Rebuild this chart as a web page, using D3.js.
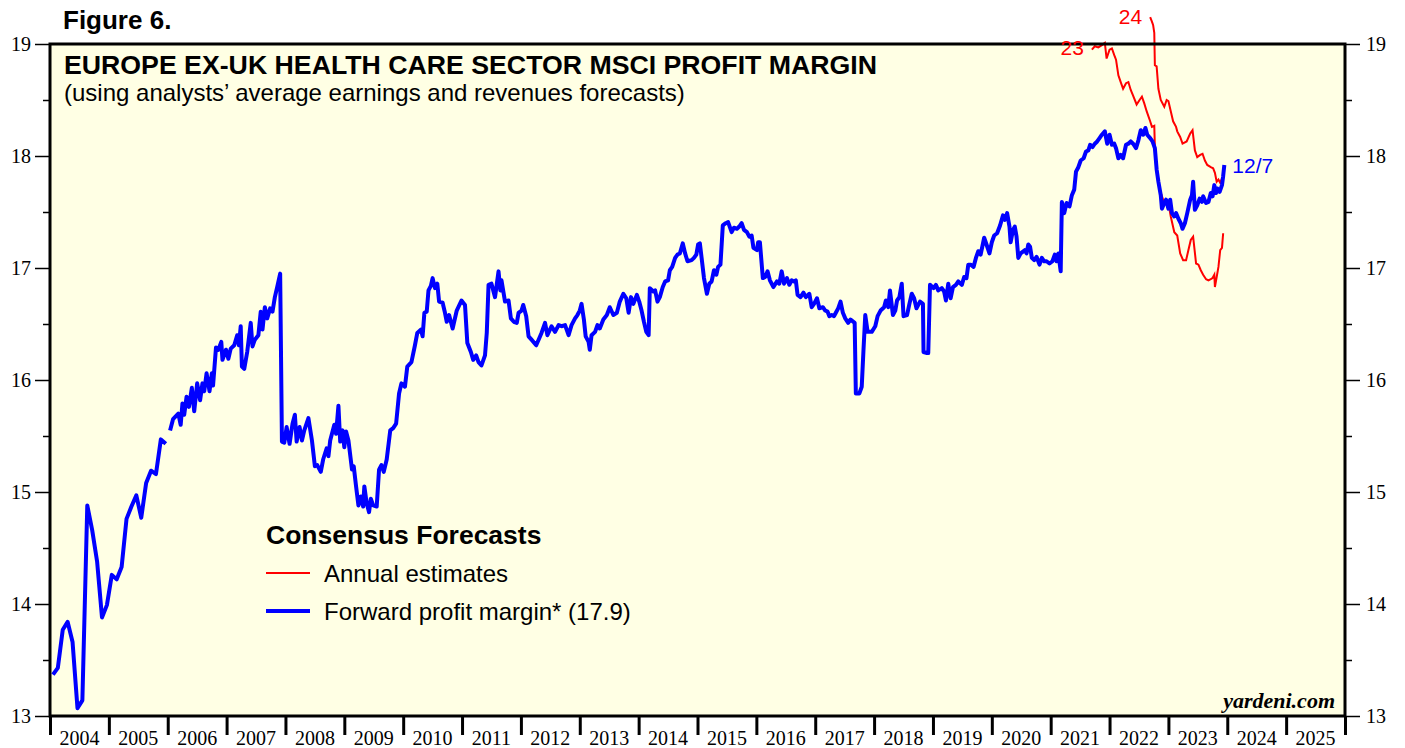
<!DOCTYPE html>
<html>
<head>
<meta charset="utf-8">
<script src="https://cdn.jsdelivr.net/npm/d3@7"></script>
<style>
  body { margin: 0; background: #fff; }
  #chart svg { display: block; }
</style>
</head>
<body>
<div id="chart"></div>
<script>
// monthly forward margin, 2004-2005
const monthlyDates = ["2004-01","2004-02","2004-03","2004-04","2004-05","2004-06","2004-07","2004-08","2004-09","2004-10","2004-11","2004-12",
                      "2005-01","2005-02","2005-03","2005-04","2005-05","2005-06","2005-07","2005-08","2005-09","2005-10","2005-11","2005-12"];
const monthlyValues = [13.37,13.43,13.77,13.84,13.66,13.07,13.14,14.88,14.66,14.38,13.88,13.99,
                       14.26,14.22,14.33,14.76,14.87,14.97,14.77,15.08,15.19,15.16,15.47,15.43];

// weekly forward margin [decimal year, value], 2006 onward
const weeklyFwd = [[2006.04,15.55],[2006.09,15.65],[2006.18,15.70],[2006.22,15.60],[2006.25,15.79],[2006.28,15.69],[2006.32,15.85],[2006.36,15.76],[2006.41,15.93],[2006.45,15.72],[2006.50,15.97],[2006.55,15.82],[2006.59,15.97],[2006.62,15.90],[2006.66,16.06],[2006.71,15.90],[2006.75,16.06],[2006.77,15.95],[2006.82,16.29],[2006.86,16.27],[2006.91,16.34],[2006.93,16.18],[2006.99,16.27],
  [2007.03,16.19],[2007.07,16.28],[2007.13,16.31],[2007.18,16.40],[2007.21,16.31],[2007.24,16.48],[2007.26,16.12],[2007.30,16.10],[2007.35,16.25],[2007.41,16.51],[2007.44,16.30],[2007.48,16.36],[2007.54,16.40],[2007.58,16.61],[2007.61,16.45],[2007.65,16.65],[2007.69,16.55],[2007.74,16.64],[2007.78,16.61],[2007.82,16.74],[2007.86,16.83],[2007.91,16.95],[2007.94,15.45],[2007.98,15.44],
  [2008.02,15.58],[2008.07,15.43],[2008.12,15.61],[2008.16,15.69],[2008.19,15.45],[2008.24,15.58],[2008.28,15.46],[2008.32,15.55],[2008.39,15.66],[2008.45,15.46],[2008.50,15.23],[2008.54,15.24],[2008.60,15.18],[2008.64,15.29],[2008.70,15.39],[2008.73,15.32],[2008.76,15.46],[2008.83,15.60],[2008.86,15.52],[2008.90,15.77],[2008.93,15.45],[2008.97,15.55],
  [2009.00,15.40],[2009.03,15.54],[2009.07,15.46],[2009.13,15.20],[2009.16,15.23],[2009.20,15.05],[2009.24,14.88],[2009.28,14.96],[2009.32,14.87],[2009.34,15.05],[2009.38,14.90],[2009.42,14.82],[2009.45,14.94],[2009.49,14.88],[2009.55,14.87],[2009.59,15.20],[2009.63,15.24],[2009.67,15.18],[2009.72,15.29],[2009.78,15.55],[2009.83,15.57],[2009.88,15.61],[2009.93,15.88],[2009.97,15.97],
  [2010.03,15.94],[2010.07,16.12],[2010.14,16.16],[2010.20,16.31],[2010.24,16.42],[2010.30,16.45],[2010.33,16.39],[2010.36,16.60],[2010.40,16.61],[2010.43,16.80],[2010.47,16.84],[2010.50,16.91],[2010.54,16.82],[2010.58,16.86],[2010.61,16.70],[2010.67,16.69],[2010.71,16.60],[2010.74,16.52],[2010.78,16.58],[2010.84,16.46],[2010.91,16.62],[2010.99,16.71],
  [2011.05,16.67],[2011.09,16.33],[2011.15,16.25],[2011.19,16.18],[2011.24,16.22],[2011.28,16.16],[2011.33,16.13],[2011.39,16.22],[2011.42,16.42],[2011.45,16.85],[2011.50,16.86],[2011.56,16.74],[2011.62,16.97],[2011.65,16.80],[2011.67,16.89],[2011.73,16.70],[2011.79,16.71],[2011.83,16.55],[2011.88,16.52],[2011.93,16.51],[2011.96,16.60],
  [2012.01,16.62],[2012.04,16.67],[2012.09,16.57],[2012.13,16.39],[2012.18,16.36],[2012.26,16.31],[2012.31,16.37],[2012.35,16.42],[2012.41,16.51],[2012.45,16.40],[2012.52,16.48],[2012.58,16.43],[2012.64,16.49],[2012.69,16.48],[2012.75,16.49],[2012.81,16.40],[2012.86,16.49],[2012.92,16.55],[2012.96,16.58],
  [2013.00,16.62],[2013.03,16.68],[2013.07,16.54],[2013.10,16.39],[2013.15,16.34],[2013.17,16.27],[2013.20,16.40],[2013.26,16.43],[2013.30,16.49],[2013.34,16.46],[2013.40,16.54],[2013.46,16.58],[2013.51,16.65],[2013.57,16.58],[2013.63,16.60],[2013.68,16.70],[2013.74,16.77],[2013.79,16.73],[2013.83,16.60],[2013.87,16.74],[2013.91,16.68],[2013.97,16.76],
  [2014.01,16.70],[2014.05,16.62],[2014.09,16.52],[2014.13,16.43],[2014.17,16.40],[2014.19,16.82],[2014.25,16.79],[2014.28,16.80],[2014.32,16.70],[2014.36,16.74],[2014.41,16.83],[2014.45,16.88],[2014.50,16.89],[2014.53,16.98],[2014.57,17.01],[2014.62,17.09],[2014.66,17.12],[2014.70,17.13],[2014.75,17.22],[2014.79,17.13],[2014.83,17.06],[2014.90,17.07],[2014.94,17.09],[2014.98,17.12],
  [2015.01,17.21],[2015.04,17.22],[2015.07,17.09],[2015.11,16.91],[2015.16,16.77],[2015.20,16.86],[2015.24,16.88],[2015.28,16.98],[2015.32,16.94],[2015.35,17.01],[2015.39,17.03],[2015.43,17.38],[2015.48,17.40],[2015.52,17.41],[2015.58,17.32],[2015.62,17.36],[2015.67,17.35],[2015.71,17.37],[2015.75,17.40],[2015.79,17.34],[2015.84,17.32],[2015.88,17.28],[2015.92,17.29],[2015.95,17.18],
  [2016.01,17.16],[2016.03,17.23],[2016.06,17.23],[2016.11,16.91],[2016.15,16.92],[2016.19,16.97],[2016.23,16.89],[2016.29,16.83],[2016.35,16.88],[2016.39,16.86],[2016.43,16.97],[2016.47,16.86],[2016.52,16.91],[2016.56,16.85],[2016.60,16.89],[2016.64,16.88],[2016.67,16.89],[2016.70,16.76],[2016.75,16.74],[2016.80,16.78],[2016.84,16.74],[2016.90,16.77],[2016.94,16.65],[2016.98,16.68],
  [2017.03,16.73],[2017.07,16.64],[2017.13,16.65],[2017.17,16.62],[2017.21,16.61],[2017.24,16.57],[2017.28,16.58],[2017.32,16.57],[2017.35,16.60],[2017.39,16.64],[2017.43,16.70],[2017.47,16.60],[2017.51,16.55],[2017.56,16.51],[2017.60,16.54],[2017.67,16.51],[2017.69,15.88],[2017.75,15.88],[2017.79,15.94],[2017.82,16.27],[2017.85,16.58],[2017.89,16.43],[2017.96,16.43],
  [2018.02,16.48],[2018.06,16.57],[2018.11,16.62],[2018.17,16.65],[2018.20,16.71],[2018.24,16.65],[2018.27,16.80],[2018.32,16.58],[2018.36,16.62],[2018.39,16.71],[2018.43,16.74],[2018.47,16.86],[2018.50,16.57],[2018.56,16.58],[2018.60,16.68],[2018.64,16.77],[2018.68,16.73],[2018.72,16.64],[2018.78,16.70],[2018.83,16.68],[2018.84,16.25],[2018.90,16.24],[2018.92,16.24],[2018.95,16.85],
  [2019.01,16.82],[2019.05,16.85],[2019.09,16.80],[2019.15,16.82],[2019.19,16.79],[2019.22,16.71],[2019.26,16.86],[2019.30,16.73],[2019.34,16.83],[2019.39,16.85],[2019.43,16.88],[2019.49,16.85],[2019.53,16.92],[2019.57,16.91],[2019.60,17.03],[2019.64,17.03],[2019.69,17.01],[2019.73,17.09],[2019.77,17.15],[2019.81,17.12],[2019.87,17.27],[2019.91,17.21],[2019.96,17.13],
  [2020.00,17.23],[2020.04,17.29],[2020.09,17.31],[2020.14,17.38],[2020.19,17.47],[2020.22,17.43],[2020.26,17.49],[2020.30,17.37],[2020.32,17.23],[2020.36,17.34],[2020.39,17.37],[2020.42,17.28],[2020.45,17.09],[2020.49,17.13],[2020.54,17.15],[2020.56,17.16],[2020.59,17.13],[2020.62,17.21],[2020.65,17.19],[2020.68,17.09],[2020.72,17.07],[2020.76,17.10],[2020.81,17.03],[2020.85,17.09],[2020.89,17.06],[2020.93,17.06],[2020.98,17.04],
  [2021.03,17.06],[2021.07,17.12],[2021.10,17.06],[2021.13,17.13],[2021.17,16.97],[2021.19,17.59],[2021.23,17.49],[2021.27,17.58],[2021.32,17.55],[2021.36,17.65],[2021.40,17.70],[2021.43,17.86],[2021.47,17.90],[2021.51,17.96],[2021.56,17.98],[2021.60,18.04],[2021.64,18.05],[2021.67,18.10],[2021.71,18.08],[2021.75,18.11],[2021.79,18.13],[2021.83,18.16],[2021.87,18.19],[2021.92,18.22],[2021.96,18.11],
  [2022.00,18.19],[2022.04,18.10],[2022.08,18.11],[2022.11,18.07],[2022.15,17.98],[2022.19,18.01],[2022.23,17.98],[2022.28,18.10],[2022.32,18.11],[2022.36,18.13],[2022.40,18.11],[2022.45,18.07],[2022.49,18.14],[2022.53,18.23],[2022.57,18.19],[2022.61,18.25],[2022.64,18.19],[2022.69,18.16],[2022.73,18.13],[2022.77,18.07],[2022.80,17.88],[2022.83,17.77],[2022.87,17.65],[2022.89,17.53],[2022.93,17.58],[2022.96,17.61],
  [2023.00,17.53],[2023.03,17.61],[2023.06,17.49],[2023.10,17.46],[2023.13,17.49],[2023.17,17.44],[2023.21,17.40],[2023.24,17.35],[2023.28,17.40],[2023.32,17.49],[2023.37,17.61],[2023.40,17.65],[2023.42,17.77],[2023.45,17.52],[2023.49,17.56],[2023.53,17.62],[2023.57,17.59],[2023.59,17.64],[2023.64,17.58],[2023.68,17.59],[2023.72,17.67],[2023.75,17.64],[2023.78,17.74],[2023.81,17.67],[2023.83,17.71],[2023.87,17.68],[2023.91,17.74],[2023.93,17.82],[2023.95,17.92]];

// annual estimates (red)
const est2023 = [[2021.70,18.95],[2021.75,18.98],[2021.81,18.97],[2021.87,18.99],[2021.92,19.01],[2021.95,18.87],[2022.00,18.95],[2022.04,18.96],[2022.08,18.90],[2022.11,18.86],[2022.15,18.72],[2022.19,18.66],[2022.23,18.60],[2022.28,18.65],[2022.32,18.66],[2022.36,18.59],[2022.40,18.54],[2022.46,18.46],[2022.51,18.50],[2022.55,18.53],[2022.59,18.47],[2022.63,18.40],[2022.69,18.31],[2022.72,18.26],[2022.76,18.27],[2022.77,18.08],[2022.78,17.99],[2022.80,17.88],[2022.85,17.70],[2022.91,17.61],[2023.00,17.58],[2023.04,17.46],[2023.10,17.32],[2023.15,17.29],[2023.20,17.13],[2023.25,17.07],[2023.30,17.07],[2023.34,17.16],[2023.38,17.25],[2023.42,17.28],[2023.47,17.04],[2023.51,17.03],[2023.55,16.98],[2023.59,16.94],[2023.64,16.90],[2023.68,16.89],[2023.72,16.90],[2023.75,16.91],[2023.78,16.94],[2023.79,16.83],[2023.82,16.92],[2023.85,17.01],[2023.88,17.16],[2023.91,17.18],[2023.93,17.31]];
const est2024 = [[2022.69,19.24],[2022.72,19.20],[2022.74,19.17],[2022.76,19.10],[2022.77,18.81],[2022.80,18.80],[2022.83,18.60],[2022.87,18.50],[2022.93,18.44],[2022.97,18.50],[2023.00,18.49],[2023.04,18.40],[2023.08,18.31],[2023.13,18.26],[2023.15,18.22],[2023.20,18.17],[2023.24,18.11],[2023.31,18.13],[2023.37,18.20],[2023.41,18.23],[2023.45,18.05],[2023.49,17.99],[2023.54,18.01],[2023.58,18.02],[2023.62,17.96],[2023.66,17.92],[2023.72,17.90],[2023.76,17.89],[2023.79,17.85],[2023.82,17.77],[2023.85,17.79],[2023.88,17.76],[2023.91,17.80]];

const years = d3.range(2004, 2026);
const yTicks = [13, 14, 15, 16, 17, 18, 19];
const yMinor = [13.5, 14.5, 15.5, 16.5, 17.5, 18.5];

const W = 1405, H = 748;
const frame = {left: 50, right: 1345, top: 44, bottom: 716};

const svg = d3.select("#chart").append("svg")
  .attr("width", W).attr("height", H);

const x = d3.scaleLinear().domain([2004, 2026]).range([frame.left, frame.right]);
const y = d3.scaleLinear().domain([13, 19]).range([frame.bottom, frame.top]);

const sans = "'Liberation Sans', Arial, sans-serif";
const serif = "'Liberation Serif', 'Times New Roman', serif";

// plot background
svg.append("rect")
  .attr("x", frame.left).attr("y", frame.top)
  .attr("width", frame.right - frame.left).attr("height", frame.bottom - frame.top)
  .attr("fill", "#ffffe4");

// y axes both sides
const axL = svg.append("g").attr("transform", `translate(${frame.left},0)`);
axL.call(d3.axisLeft(y).tickValues(yTicks).tickSize(15).tickFormat(d3.format("d")));
axL.append("g").call(d3.axisLeft(y).tickValues(yMinor).tickSize(7).tickFormat(""));
const axR = svg.append("g").attr("transform", `translate(${frame.right},0)`);
axR.call(d3.axisRight(y).tickValues(yTicks).tickSize(15).tickFormat(d3.format("d")));
axR.append("g").call(d3.axisRight(y).tickValues(yMinor).tickSize(7).tickFormat(""));
[axL, axR].forEach(g => {
  g.selectAll(".domain").remove();
  g.selectAll("line").attr("stroke", "#000").attr("stroke-width", 1.5);
  g.selectAll("text").attr("font-family", serif).attr("font-size", 20).attr("fill", "#000");
});
axL.selectAll("text").attr("x", -19);
axR.selectAll("text").attr("x", 21);

// x axis: year boundaries as ticks, labels centred in each year
const axB = svg.append("g").attr("transform", `translate(0,${frame.bottom})`);
axB.call(d3.axisBottom(x).tickValues(years.concat([2026])).tickSize(19).tickFormat(""));
axB.select(".domain").remove();
axB.selectAll("line").attr("stroke", "#000").attr("stroke-width", 3);
axB.selectAll(".yr").data(years).enter().append("text")
  .attr("class", "yr")
  .attr("x", d => x(d + 0.5))
  .attr("y", 29)
  .attr("text-anchor", "middle")
  .attr("fill", "#000")
  .attr("font-family", serif).attr("font-size", 20)
  .text(d => d);

// series
const parseMonth = d3.timeParse("%Y-%m");
const monthly = monthlyDates.map((s, i) => {
  const t = parseMonth(s);
  return [t.getFullYear() + (t.getMonth() + 0.6) / 12, monthlyValues[i]];
});

const line = d3.line().x(d => x(d[0])).y(d => y(d[1]));

const plot = svg.append("g");
plot.append("path").datum(est2023).attr("d", line)
  .attr("fill", "none").attr("stroke", "#ff0000").attr("stroke-width", 2);
plot.append("path").datum(est2024).attr("d", line)
  .attr("fill", "none").attr("stroke", "#ff0000").attr("stroke-width", 2);
[monthly, weeklyFwd].forEach(s => {
  plot.append("path").datum(s).attr("d", line)
    .attr("fill", "none").attr("stroke", "#0000ff").attr("stroke-width", 4)
    .attr("stroke-linejoin", "round");
});

// frame
svg.append("rect")
  .attr("x", frame.left).attr("y", frame.top)
  .attr("width", frame.right - frame.left).attr("height", frame.bottom - frame.top)
  .attr("fill", "none").attr("stroke", "#000").attr("stroke-width", 3);

// line labels
svg.append("text").attr("x", x(est2023[0][0]) - 8).attr("y", 55)
  .attr("text-anchor", "end").attr("font-family", sans).attr("font-size", 21)
  .attr("fill", "#ff0000").text("23");
svg.append("text").attr("x", x(est2024[0][0]) - 8).attr("y", 24)
  .attr("text-anchor", "end").attr("font-family", sans).attr("font-size", 21)
  .attr("fill", "#ff0000").text("24");
const last = weeklyFwd[weeklyFwd.length - 1];
svg.append("text").attr("x", x(last[0]) + 8).attr("y", 173)
  .attr("font-family", sans).attr("font-size", 21)
  .attr("fill", "#0000ff").text("12/7");

// titles
svg.append("text").attr("x", 63).attr("y", 29)
  .attr("font-family", sans).attr("font-weight", "bold").attr("font-size", 26)
  .text("Figure 6.");
svg.append("text").attr("x", 64).attr("y", 74)
  .attr("font-family", sans).attr("font-weight", "bold").attr("font-size", 26.7)
  .text("EUROPE EX-UK HEALTH CARE SECTOR MSCI PROFIT MARGIN");
svg.append("text").attr("x", 64).attr("y", 101)
  .attr("font-family", sans).attr("font-size", 24)
  .text("(using analysts\u2019 average earnings and revenues forecasts)");

// legend
const lg = svg.append("g").attr("transform", "translate(266,0)");
lg.append("text").attr("x", 0).attr("y", 544)
  .attr("font-family", sans).attr("font-weight", "bold").attr("font-size", 26.5)
  .text("Consensus Forecasts");
lg.append("line").attr("x1", 0).attr("x2", 44).attr("y1", 573).attr("y2", 573)
  .attr("stroke", "#ff0000").attr("stroke-width", 2);
lg.append("text").attr("x", 58).attr("y", 582)
  .attr("font-family", sans).attr("font-size", 24).text("Annual estimates");
lg.append("line").attr("x1", 0).attr("x2", 44).attr("y1", 611).attr("y2", 611)
  .attr("stroke", "#0000ff").attr("stroke-width", 4);
lg.append("text").attr("x", 58).attr("y", 620)
  .attr("font-family", sans).attr("font-size", 24).text("Forward profit margin* (17.9)");

svg.append("text").attr("x", 1335).attr("y", 708)
  .attr("text-anchor", "end").attr("font-family", serif)
  .attr("font-weight", "bold").attr("font-style", "italic").attr("font-size", 22)
  .text("yardeni.com");
</script>
</body>
</html>
